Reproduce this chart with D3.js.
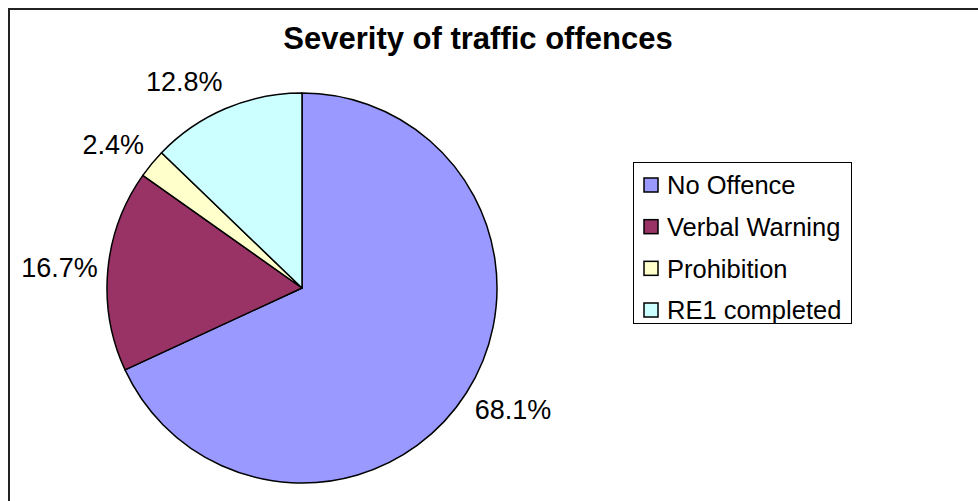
<!DOCTYPE html>
<html>
<head>
<meta charset="utf-8">
<script src="https://cdn.jsdelivr.net/npm/d3@7"></script>
<style>
  body { margin: 0; background: #fff; }
  text { font-family: Arial, "Liberation Sans", sans-serif; }
</style>
</head>
<body>
<div id="chart"></div>
<script>
// chart size
const width = 978;
const height = 501;

// data
const categories = ["No Offence", "Verbal Warning", "Prohibition", "RE1 completed"];
const percents = [68.1, 16.7, 2.4, 12.8];
const colors = ["#9999ff", "#993366", "#ffffcc", "#ccffff"];

const cx = 302, cy = 288, radius = 195;

const svg = d3.select("#chart")
  .append("svg")
  .attr("width", width)
  .attr("height", height);

// outer frame (runs off the right and bottom edge)
svg.append("rect")
  .attr("x", 9)
  .attr("y", 9)
  .attr("width", 1000)
  .attr("height", 520)
  .attr("fill", "#fff")
  .attr("stroke", "#222")
  .attr("stroke-width", 2);

// title
svg.append("text")
  .attr("x", 478)
  .attr("y", 49)
  .attr("text-anchor", "middle")
  .attr("font-size", "31px")
  .attr("font-weight", "bold")
  .text("Severity of traffic offences");

const data = categories.map((c, i) => ({name: c, value: percents[i], color: colors[i]}));

const pie = d3.pie()
  .sort(null)
  .value(d => d.value);

const arc = d3.arc()
  .innerRadius(0)
  .outerRadius(radius);

const arcs = pie(data);

const g = svg.append("g")
  .attr("transform", `translate(${cx},${cy})`);

g.selectAll(".slice")
  .data(arcs)
  .enter()
  .append("path")
    .attr("class", "slice")
    .attr("d", arc)
    .attr("fill", d => d.data.color)
    .attr("stroke", "#000")
    .attr("stroke-width", 1.5)
    .attr("stroke-linejoin", "round");

// percentage labels: anchor just outside the rim on the mid angle,
// text box pushed away from the pie (Excel style)
const labelSize = 27;
const labelArc = d3.arc()
  .innerRadius(radius + 10)
  .outerRadius(radius + 10);

g.selectAll(".pct")
  .data(arcs)
  .enter()
  .append("text")
    .attr("class", "pct")
    .attr("font-size", labelSize + "px")
    .attr("text-anchor", "middle")
    .attr("dy", "0.36em")
    .text(d => d.data.value.toFixed(1) + "%")
    .each(function(d) {
      const a = (d.startAngle + d.endAngle) / 2;
      const [ax, ay] = labelArc.centroid(d);
      const w = this.getComputedTextLength();
      const sx = Math.max(-1, Math.min(1, Math.sin(a) * 2.5));
      d3.select(this)
        .attr("x", ax + sx * w / 2)
        .attr("y", ay - Math.cos(a) * 20);
    });

// legend
const legend = svg.append("g");
legend.append("rect")
  .attr("x", 633.5)
  .attr("y", 162.5)
  .attr("width", 218)
  .attr("height", 161)
  .attr("fill", "#fff")
  .attr("stroke", "#000")
  .attr("stroke-width", 1);

const rowY = d3.scalePoint()
  .domain(categories)
  .range([185, 310]);

const item = legend.selectAll(".item")
  .data(data)
  .enter()
  .append("g")
    .attr("class", "item")
    .attr("transform", d => `translate(0,${rowY(d.name)})`);

item.append("rect")
  .attr("x", 644)
  .attr("y", -7)
  .attr("width", 14)
  .attr("height", 14)
  .attr("fill", d => d.color)
  .attr("stroke", "#000")
  .attr("stroke-width", 1.5);

item.append("text")
  .attr("x", 667)
  .attr("dy", "0.36em")
  .attr("font-size", "25.5px")
  .text(d => d.name);
</script>
</body>
</html>
